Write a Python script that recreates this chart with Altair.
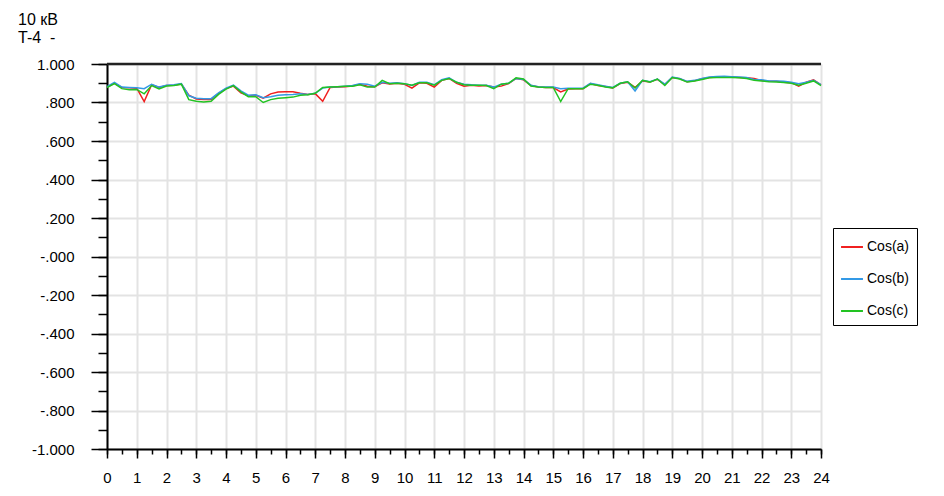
import altair as alt
import pandas as pd

hours = [i * 0.25 for i in range(97)]

cos_a = [0.880, 0.900, 0.878, 0.876, 0.874, 0.805, 0.892, 0.878, 0.888, 0.890, 0.896, 0.838,
         0.818, 0.815, 0.816, 0.848, 0.872, 0.885, 0.850, 0.835, 0.838, 0.822, 0.845, 0.855,
         0.856, 0.856, 0.848, 0.842, 0.846, 0.806, 0.878, 0.880, 0.882, 0.886, 0.895, 0.885,
         0.882, 0.902, 0.896, 0.900, 0.895, 0.875, 0.902, 0.900, 0.880, 0.915, 0.925, 0.900,
         0.885, 0.890, 0.886, 0.888, 0.880, 0.885, 0.898, 0.925, 0.918, 0.888, 0.880, 0.878,
         0.878, 0.855, 0.870, 0.872, 0.872, 0.898, 0.888, 0.883, 0.875, 0.898, 0.905, 0.878,
         0.912, 0.906, 0.920, 0.893, 0.930, 0.924, 0.908, 0.913, 0.923, 0.930, 0.932, 0.933,
         0.932, 0.930, 0.928, 0.925, 0.915, 0.910, 0.910, 0.905, 0.903, 0.885, 0.905, 0.918,
         0.892]

cos_b = [0.882, 0.905, 0.880, 0.878, 0.876, 0.872, 0.895, 0.880, 0.890, 0.892, 0.898, 0.835,
         0.822, 0.820, 0.820, 0.850, 0.875, 0.890, 0.860, 0.838, 0.840, 0.825, 0.830, 0.838,
         0.840, 0.842, 0.845, 0.842, 0.848, 0.875, 0.880, 0.882, 0.885, 0.888, 0.898, 0.895,
         0.885, 0.905, 0.900, 0.902, 0.898, 0.888, 0.905, 0.905, 0.892, 0.918, 0.928, 0.905,
         0.895, 0.892, 0.890, 0.890, 0.880, 0.895, 0.900, 0.925, 0.920, 0.890, 0.882, 0.880,
         0.880, 0.872, 0.874, 0.874, 0.875, 0.900, 0.892, 0.885, 0.878, 0.900, 0.908, 0.860,
         0.915, 0.908, 0.922, 0.895, 0.932, 0.925, 0.910, 0.915, 0.925, 0.932, 0.935, 0.936,
         0.934, 0.932, 0.930, 0.920, 0.918, 0.912, 0.912, 0.910, 0.905, 0.898, 0.905, 0.915,
         0.893]

cos_c = [0.878, 0.898, 0.872, 0.866, 0.868, 0.845, 0.888, 0.870, 0.886, 0.888, 0.895, 0.815,
         0.806, 0.803, 0.806, 0.842, 0.870, 0.888, 0.855, 0.830, 0.830, 0.800, 0.815, 0.822,
         0.825, 0.828, 0.838, 0.840, 0.848, 0.878, 0.880, 0.882, 0.884, 0.885, 0.892, 0.880,
         0.880, 0.915, 0.898, 0.900, 0.898, 0.890, 0.902, 0.902, 0.890, 0.915, 0.925, 0.905,
         0.892, 0.890, 0.890, 0.888, 0.872, 0.895, 0.900, 0.928, 0.922, 0.886, 0.880, 0.878,
         0.878, 0.805, 0.872, 0.872, 0.872, 0.895, 0.890, 0.880, 0.876, 0.900, 0.908, 0.875,
         0.915, 0.906, 0.922, 0.888, 0.930, 0.922, 0.906, 0.912, 0.920, 0.928, 0.930, 0.930,
         0.930, 0.928, 0.925, 0.915, 0.912, 0.908, 0.906, 0.904, 0.900, 0.890, 0.900, 0.912,
         0.888]

series_names = ["Cos(a)", "Cos(b)", "Cos(c)"]
series_colors = ["#f02020", "#3399e6", "#22c322"]

y_tick_values = [-1.0, -0.8, -0.6, -0.4, -0.2, 0.0, 0.2, 0.4, 0.6, 0.8, 1.0]
y_tick_labels = ["-1.000", "-.800", "-.600", "-.400", "-.200", "-.000",
                 ".200", ".400", ".600", ".800", "1.000"]
x_tick_values = list(range(25))
header_lines = ["10 кВ", "T-4\u00a0\u00a0-"]

rows = []
for name, vals in zip(series_names, [cos_a, cos_b, cos_c]):
    for h, v in zip(hours, vals):
        rows.append({"h": h, "v": v, "s": name})
df = pd.DataFrame(rows)

FONT = "Liberation Sans"
label_arr = "[" + ",".join("'%s'" % l for l in y_tick_labels) + "]"
y_label_expr = label_arr + "[round((datum.value + 1) / 0.2)]"

xscale = alt.Scale(domain=[0, 24], nice=False, zero=False)
yscale = alt.Scale(domain=[-1, 1], nice=False, zero=False)

minor_x = [i * 0.5 for i in range(49)]
minor_y = [round(-1 + i * 0.1, 2) for i in range(21)]

minor = alt.Chart(df).mark_line(opacity=0).encode(
    x=alt.X("h:Q", scale=xscale, axis=alt.Axis(values=minor_x, labels=False, grid=False,
            domain=False, tickSize=5, tickColor="black", tickWidth=1.5, title=None, orient="bottom")),
    y=alt.Y("v:Q", scale=yscale, axis=alt.Axis(values=minor_y, labels=False, grid=False,
            domain=False, tickSize=9, tickColor="black", tickWidth=1.5, title=None, orient="left")),
)

lines = alt.Chart(df).mark_line(strokeWidth=1.5).encode(
    x=alt.X("h:Q", scale=xscale, axis=alt.Axis(values=x_tick_values, title=None, grid=True,
            gridColor="#e3e3e3", gridWidth=2, domainColor="black", domainWidth=2,
            tickColor="black", tickWidth=1.5, tickSize=9, labelPadding=12, labelFlush=False,
            labelFont=FONT, labelFontSize=15, labelColor="black", orient="bottom")),
    y=alt.Y("v:Q", scale=yscale, axis=alt.Axis(values=y_tick_values, title=None, grid=True,
            gridColor="#e3e3e3", gridWidth=2, domainColor="black", domainWidth=2,
            tickColor="black", tickWidth=1.5, tickSize=16, labelPadding=17, labelFlush=False,
            labelExpr=y_label_expr, labelFont=FONT, labelFontSize=15, labelColor="black",
            orient="left")),
    color=alt.Color("s:N", scale=alt.Scale(domain=series_names, range=series_colors),
                    legend=alt.Legend(title=None, orient="none", legendX=726, legendY=164,
                                      strokeColor="black", fillColor="white", padding=7,
                                      symbolType="stroke", symbolSize=480, symbolStrokeWidth=2,
                                      labelFont=FONT, labelFontSize=14, labelColor="black",
                                      rowPadding=13, labelOffset=3,
                                      labelExpr="datum.label + '\u00a0\u00a0\u00a0\u00a0\u00a0'")),
)

top_rule = alt.Chart(pd.DataFrame({"t": [1.0]})).mark_rule(color="#222222", strokeWidth=2.5).encode(
    y=alt.Y("t:Q", scale=yscale, axis=None)
)

hdr = pd.DataFrame({"t": header_lines, "i": [0, 1]})
header1 = alt.Chart(hdr.iloc[[0]]).mark_text(align="left", baseline="alphabetic", font=FONT,
                                             fontSize=16, color="black").encode(
    text="t:N", x=alt.value(-89), y=alt.value(-39))
header2 = alt.Chart(hdr.iloc[[1]]).mark_text(align="left", baseline="alphabetic", font=FONT,
                                             fontSize=16, color="black").encode(
    text="t:N", x=alt.value(-89), y=alt.value(-21))

chart = alt.layer(minor, lines, top_rule, header1, header2).resolve_axis(
    x="independent", y="independent"
).properties(
    width=714, height=385,
    autosize=alt.AutoSizeParams(type="none"),
    padding={"left": 99, "top": 56, "right": 115, "bottom": 40},
).configure_view(stroke=None)

chart.save("out.html", embed_options={"renderer": "svg", "actions": False})
